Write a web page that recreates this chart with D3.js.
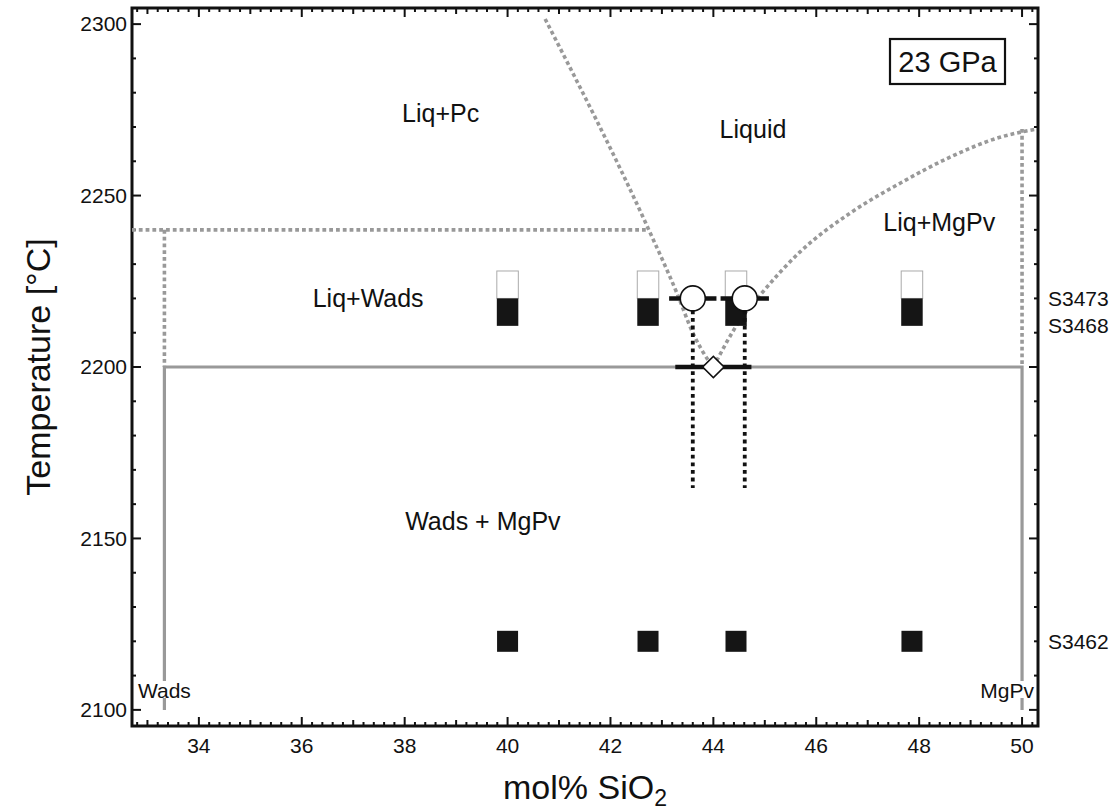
<!DOCTYPE html>
<html>
<head>
<meta charset="utf-8">
<script src="https://cdn.jsdelivr.net/npm/d3@7"></script>
<style>
  body { margin: 0; background: #fff; }
  svg text { font-family: "Liberation Sans", Arial, sans-serif; fill: #111; }
</style>
</head>
<body>
<div id="chart"></div>
<script>
// tick labels
var xTicks = [34, 36, 38, 40, 42, 44, 46, 48, 50];
var yTicks = [2100, 2150, 2200, 2250, 2300];

// starting compositions (mol% SiO2) of the four capsules
var bulkComps = [40.0, 42.73, 44.44, 47.86];

// runs, labelled on the right
var runNames = ["S3473", "S3468", "S3462"];
var runTemps = [2220, 2212, 2120];

// liquidus branches
var liqLeft = [[40.73, 2301.5], [42.73, 2240.5], [43.29, 2221.6], [43.60, 2210.0], [43.90, 2202.0], [44.0, 2200]];
var liqRight = [[44.0, 2200], [44.52, 2213.7], [44.91, 2221.0], [45.68, 2233.5], [46.66, 2244.9],
                [47.63, 2253.6], [48.60, 2261.2], [49.57, 2267.0], [50.29, 2269.4]];

// measured melt compositions at 2220 and the eutectic
var meltX = [43.60, 44.61];
var meltErr = [0.46, 0.47];
var meltT = 2220;
var eutX = 44.0, eutErr = 0.74, eutT = 2200;

// phase compositions and invariant temperatures
var wadsX = 33.33, mgpvX = 50.0;
var solidusT = 2200, periT = 2240, mgpvMeltT = 2269.4;

var regionLabels = [
  {text: "Liq+Pc", x: 38.70, t: 2271.4},
  {text: "Liquid", x: 44.77, t: 2266.8},
  {text: "Liq+MgPv", x: 48.39, t: 2239.7},
  {text: "Liq+Wads", x: 37.29, t: 2217.5},
  {text: "Wads + MgPv", x: 39.52, t: 2152.5}
];

var W = 1117, H = 811;
var pL = 132, pR = 1038, pT = 8, pB = 726;

var svg = d3.select("#chart").append("svg")
    .attr("width", W)
    .attr("height", H);

var x = d3.scaleLinear().domain([32.7, 50.31]).range([pL, pR]);
var y = d3.scaleLinear().domain([2095.3, 2304.7]).range([pB, pT]);

var grey = "#999";

// axes frame with inward ticks
function tickLen(v, step, mid) {
  if (Math.abs(v / step - Math.round(v / step)) < 1e-6) return 9;
  if (mid && Math.abs(v / mid - Math.round(v / mid)) < 1e-6) return 6;
  return 4;
}
var xMinor = d3.range(32.8, 50.31, 0.2).map(d => +d.toFixed(1));
var yMinor = d3.range(2100, 2301, 10);

var frame = svg.append("g");
xMinor.forEach(function(v) {
  var L = tickLen(v, 2, 1);
  frame.append("line").attr("x1", x(v)).attr("x2", x(v)).attr("y1", pB).attr("y2", pB - L);
  frame.append("line").attr("x1", x(v)).attr("x2", x(v)).attr("y1", pT).attr("y2", pT + L);
});
yMinor.forEach(function(v) {
  var L = tickLen(v, 50, null);
  frame.append("line").attr("y1", y(v)).attr("y2", y(v)).attr("x1", pL).attr("x2", pL + L);
  frame.append("line").attr("y1", y(v)).attr("y2", y(v)).attr("x1", pR).attr("x2", pR - L);
});
frame.selectAll("line").attr("stroke", "#111").attr("stroke-width", 2);

svg.append("rect")
    .attr("x", pL).attr("y", pT)
    .attr("width", pR - pL).attr("height", pB - pT)
    .attr("fill", "none").attr("stroke", "#111").attr("stroke-width", 3);

// tick labels
svg.selectAll(".xlab").data(xTicks).enter().append("text")
    .attr("x", d => x(d)).attr("y", pB + 27)
    .attr("text-anchor", "middle").style("font-size", "21px")
    .text(d => d);
svg.selectAll(".ylab").data(yTicks).enter().append("text")
    .attr("x", pL - 5).attr("y", d => y(d)).attr("dy", "0.35em")
    .attr("text-anchor", "end").style("font-size", "21px")
    .text(d => d);

// axis titles
svg.append("text")
    .attr("transform", "translate(50," + ((pT + pB) / 2) + ") rotate(-90)")
    .attr("text-anchor", "middle").style("font-size", "34px")
    .text("Temperature [°C]");
var xt = svg.append("text")
    .attr("x", (pL + pR) / 2).attr("y", 799)
    .attr("text-anchor", "middle").style("font-size", "34px");
xt.append("tspan").text("mol% SiO");
xt.append("tspan").attr("dy", 7).style("font-size", "23px").text("2");

// solid grey phase boundaries
var line = d3.line().x(d => x(d[0])).y(d => y(d[1]));
svg.append("path")
    .attr("d", line([[wadsX, 2100], [wadsX, solidusT], [mgpvX, solidusT], [mgpvX, 2100]]))
    .attr("fill", "none").attr("stroke", grey).attr("stroke-width", 3.2);

// dotted grey boundaries
var dotted = svg.append("g")
    .attr("fill", "none").attr("stroke", grey)
    .attr("stroke-width", 3.6).attr("stroke-dasharray", "3.8,3");
dotted.append("path").attr("d", line([[32.7, periT], [liqLeft[1][0], periT]]));
dotted.append("path").attr("d", line([[wadsX, periT], [wadsX, solidusT]]));
dotted.append("path").attr("d", line([[mgpvX, mgpvMeltT], [mgpvX, solidusT]]));
var curve = d3.line().x(d => x(d[0])).y(d => y(d[1])).curve(d3.curveMonotoneX);
dotted.append("path").attr("d", curve(liqLeft));
dotted.append("path").attr("d", curve(liqRight));

// end member labels with a white backing
[{t: "Wads", x: wadsX, anchor: "middle"}, {t: "MgPv", x: mgpvX, anchor: "end", dx: 12}].forEach(function(l) {
  var g = svg.append("g");
  var tx = g.append("text")
      .attr("x", x(l.x) + (l.dx || 0)).attr("y", 698)
      .attr("text-anchor", l.anchor).style("font-size", "21px").text(l.t);
  var b = tx.node().getBBox();
  g.insert("rect", "text")
      .attr("x", b.x - 1).attr("y", b.y + 2).attr("width", b.width + 2).attr("height", b.height - 6)
      .attr("fill", "#fff");
});

// experiment markers: upper runs (white = S3473, black = S3468)
var boxW = 21.5;
svg.selectAll(".upTop").data(bulkComps).enter().append("rect")
    .attr("x", d => x(d) - boxW / 2).attr("y", y(runTemps[0] + 8))
    .attr("width", boxW).attr("height", y(runTemps[0]) - y(runTemps[0] + 8))
    .attr("fill", "#fff").attr("stroke", "#aaa").attr("stroke-width", 1);
svg.selectAll(".upBot").data(bulkComps).enter().append("rect")
    .attr("x", d => x(d) - boxW / 2).attr("y", y(runTemps[0]))
    .attr("width", boxW).attr("height", y(runTemps[1]) - y(runTemps[0]))
    .attr("fill", "#151515");
// lower run
svg.selectAll(".low").data(bulkComps).enter().append("rect")
    .attr("x", d => x(d) - 10.5).attr("y", y(runTemps[2]) - 10.5)
    .attr("width", 21).attr("height", 21)
    .attr("fill", "#151515");

// melt compositions: dotted drop lines, error bars, circles
var blk = svg.append("g");
meltX.forEach(function(m, i) {
  blk.append("line")
      .attr("x1", x(m)).attr("x2", x(m)).attr("y1", y(meltT) + 12).attr("y2", y(2164.7))
      .attr("stroke", "#111").attr("stroke-width", 3.8).attr("stroke-dasharray", "3.8,3.8");
  blk.append("line")
      .attr("x1", x(m - meltErr[i])).attr("x2", x(m + meltErr[i]))
      .attr("y1", y(meltT)).attr("y2", y(meltT))
      .attr("stroke", "#111").attr("stroke-width", 4.5);
});
blk.append("line")
    .attr("x1", x(eutX - eutErr)).attr("x2", x(eutX + eutErr))
    .attr("y1", y(eutT)).attr("y2", y(eutT))
    .attr("stroke", "#111").attr("stroke-width", 4.5);
blk.selectAll("circle").data(meltX).enter().append("circle")
    .attr("cx", d => x(d)).attr("cy", y(meltT)).attr("r", 12.5)
    .attr("fill", "#fff").attr("stroke", "#111").attr("stroke-width", 1.6);
blk.append("path")
    .attr("d", d3.symbol(d3.symbolSquare, 230)())
    .attr("transform", "translate(" + x(eutX) + "," + y(eutT) + ") rotate(45)")
    .attr("fill", "#fff").attr("stroke", "#111").attr("stroke-width", 1.6);

// run names on the right
svg.selectAll(".run").data(runNames).enter().append("text")
    .attr("x", pR + 10).attr("y", (d, i) => y(runTemps[i])).attr("dy", "0.35em")
    .style("font-size", "21px")
    .text(d => d);

// phase field labels
svg.selectAll(".region").data(regionLabels).enter().append("text")
    .attr("x", d => x(d.x)).attr("y", d => y(d.t))
    .attr("text-anchor", "middle").style("font-size", "25px")
    .text(d => d.text);

// pressure box
svg.append("rect")
    .attr("x", 890).attr("y", 39).attr("width", 115).attr("height", 45)
    .attr("fill", "#fff").attr("stroke", "#111").attr("stroke-width", 2.2);
svg.append("text")
    .attr("x", 947.5).attr("y", 72).attr("text-anchor", "middle")
    .style("font-size", "29px").text("23 GPa");
</script>
</body>
</html>
